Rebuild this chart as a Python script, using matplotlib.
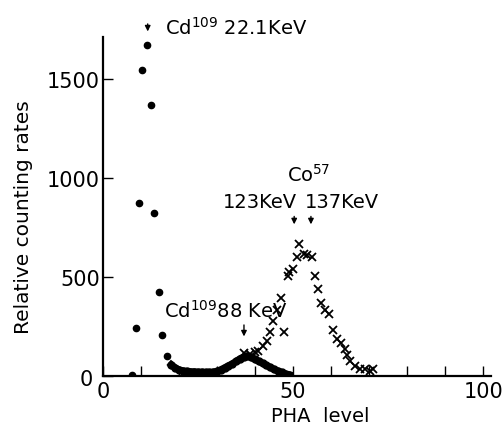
import matplotlib
matplotlib.use("Agg")
import matplotlib.pyplot as plt
from matplotlib.transforms import offset_copy

# Cd109 spectrum: sparse low-channel points
cd_x = [7.8, 8.6, 9.5, 10.4, 11.7, 12.6, 13.4, 14.7, 15.6, 16.9, 18.0]
cd_y = [5, 243, 870, 1542, 1670, 1365, 820, 422, 204, 98, 56]

# Cd109 spectrum: dense channels (thick trace)
cd2_x = [18, 19, 20, 21, 22, 23, 24, 25, 26, 27, 28, 29, 30, 31, 32, 33, 34,
         35, 36, 37, 38, 39, 40, 41, 42, 43, 44, 45, 46, 47, 48, 49]
cd2_y = [56, 40, 30, 25, 22, 20, 20, 18, 18, 17, 17, 18, 22, 30, 40, 50, 60,
         72, 85, 95, 100, 92, 82, 72, 62, 52, 42, 32, 24, 16, 10, 5]

# Co57 spectrum (crosses)
co_x = [37.0, 38.7, 40.1, 40.9, 42.1, 43.1, 44.0, 44.7, 45.7, 46.8, 47.6, 48.6,
        49.0, 49.9, 51.0, 51.6, 52.9, 53.7, 54.9, 55.8, 56.6, 57.3, 58.4, 59.5,
        60.6, 61.6, 62.6, 63.6, 64.2, 64.9, 66.2, 67.5, 68.8, 70.2, 71.0]
co_y = [114, 109, 117, 125, 151, 176, 218, 277, 332, 390, 221, 501,
        521, 541, 600, 664, 612, 607, 600, 501, 438, 367, 330, 313,
        233, 184, 164, 134, 104, 75, 49, 33, 33, 24, 33]

fig = plt.figure(figsize=(5.04, 4.39), dpi=100)
ax = fig.add_axes([0.204, 0.142, 0.77, 0.771])

ax.plot(cd_x, cd_y, 'o', color='black', ms=4.5)
ax.plot(cd2_x, cd2_y, '-o', color='black', lw=5, ms=5)
ax.plot(co_x, co_y, 'x', color='black', ms=6, mew=1.3)

ax.set_xlim(0, 102)
ax.set_ylim(0, 1709)
ax.spines['top'].set_visible(False)
ax.spines['right'].set_visible(False)
ax.spines['left'].set_linewidth(1.6)
ax.spines['bottom'].set_linewidth(1.6)

ax.set_xticks([0, 50, 100])
ax.set_xticks(range(10, 100, 10), minor=True)
ax.set_yticks([0, 500, 1000, 1500])
ax.tick_params(which='both', direction='in', length=7, width=1, labelsize=15)
ax.tick_params(axis='y', pad=2)

# the "0" on the y axis sits a little further out, as in the original
ylab0 = ax.get_yticklabels()[0]
ylab0.set_transform(offset_copy(ylab0.get_transform(), fig=fig, x=-7, y=-1, units='dots'))

ax.set_ylabel('Relative counting rates', fontsize=14.5)
ax.yaxis.set_label_coords(-0.18, 0.47)
ax.set_xlabel('PHA  level', fontsize=14)
ax.xaxis.set_label_coords(0.56, -0.09)

arrow = dict(arrowstyle='-|>', color='black', lw=1, mutation_scale=8)
fs = 14

ax.text(16.3, 1724, 'Cd$^{109}$ 22.1KeV', fontsize=fs, va='baseline', clip_on=False)
ax.annotate('', xy=(11.8, 1724), xytext=(11.8, 1790), arrowprops=arrow,
            annotation_clip=False)

ax.text(48.4, 982, 'Co$^{57}$', fontsize=fs, va='baseline')
ax.text(31.6, 851, '123KeV', fontsize=fs, va='baseline')
ax.text(53.2, 851, '137KeV', fontsize=fs, va='baseline')
ax.annotate('', xy=(50.3, 750), xytext=(50.3, 818), arrowprops=arrow)
ax.annotate('', xy=(54.7, 750), xytext=(54.7, 818), arrowprops=arrow)

ax.text(16.1, 295, 'Cd$^{109}$88 KeV', fontsize=fs, va='baseline')
ax.annotate('', xy=(37.1, 184), xytext=(37.1, 270), arrowprops=arrow)

fig.savefig('out.png', dpi=100)
